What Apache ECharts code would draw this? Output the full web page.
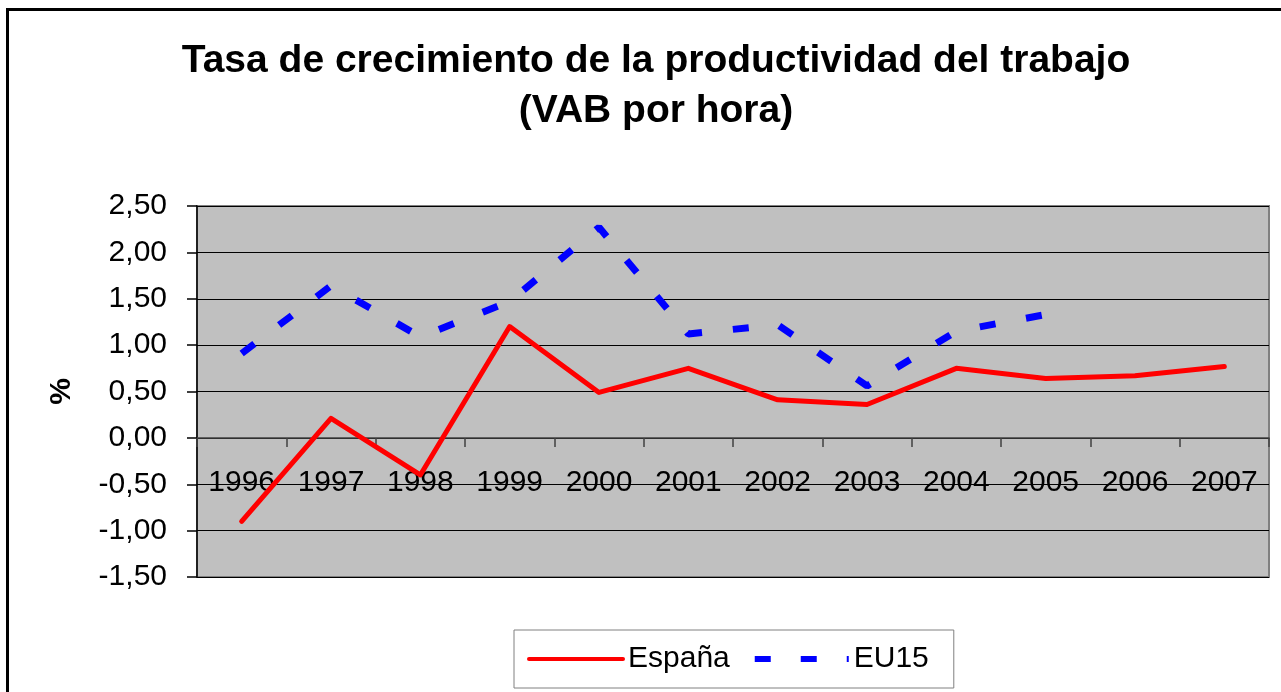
<!DOCTYPE html>
<html>
<head>
<meta charset="utf-8">
<script src="https://cdn.jsdelivr.net/npm/echarts@6/dist/echarts.min.js"></script>
<style>
html,body{margin:0;padding:0;background:#fff;}
#chart{width:1281px;height:692px;}
</style>
</head>
<body>
<div id="chart"></div>
<script>
const years = ['1996','1997','1998','1999','2000','2001','2002','2003','2004','2005','2006','2007'];
const espana = [-0.90, 0.21, -0.40, 1.20, 0.49, 0.75, 0.41, 0.36, 0.75, 0.64, 0.67, 0.77];
const eu15 = [0.91, 1.64, 1.09, 1.47, 2.27, 1.12, 1.22, 0.56, 1.15, 1.33, null, null];
const titleText = 'Tasa de crecimiento de la productividad del trabajo\n(VAB por hora)';
const yName = '%';
const yMin = -1.5, yMax = 2.5, yStep = 0.5;

const FONT = 'Arial, "Liberation Sans", sans-serif';
const gridTop = 206, gridBottomPx = 577;
const gridH = gridBottomPx - gridTop;
const zeroOffset = -(gridH * (0 - yMin) / (yMax - yMin));

const chart = echarts.init(document.getElementById('chart'), null, {renderer: 'canvas'});
chart.setOption({
  animation: false,
  backgroundColor: '#ffffff',
  textStyle: {fontFamily: FONT, color: '#000'},
  graphic: [{
    type: 'rect',
    shape: {x: 7.5, y: 9.5, width: 1290, height: 700},
    style: {fill: 'none', stroke: '#000', lineWidth: 3},
    silent: true
  }],
  title: {
    text: titleText,
    left: 651,
    top: 31,
    textAlign: 'center',
    textStyle: {fontFamily: FONT, fontSize: 39, fontWeight: 'bold', color: '#000', lineHeight: 50}
  },
  legend: {
    left: 514,
    top: 630,
    padding: [14, 25, 14, 13],
    itemGap: 22,
    itemWidth: 94,
    itemHeight: 14,
    borderColor: '#808080',
    borderWidth: 1,
    backgroundColor: '#fff',
    itemStyle: {opacity: 0},
    textStyle: {fontFamily: FONT, fontSize: 30, color: '#000'},
    data: [
      {name: 'España', lineStyle: {width: 4, color: '#FF0000'}},
      {name: 'EU15', lineStyle: {width: 6, color: '#0000FF', type: [16, 30]}}
    ]
  },
  grid: {
    left: 197, top: gridTop, right: 12, bottom: 692 - gridBottomPx,
    show: true,
    backgroundColor: '#C0C0C0',
    borderColor: '#808080',
    borderWidth: 2
  },
  xAxis: {
    type: 'category',
    data: years,
    boundaryGap: true,
    offset: zeroOffset,
    axisLine: {show: true, onZero: false, lineStyle: {color: '#404040', width: 1.5}},
    axisTick: {show: true, inside: false, length: 9, interval: 0, lineStyle: {color: '#404040', width: 1.5}},
    axisLabel: {interval: 0, fontSize: 30, fontFamily: FONT, color: '#000', margin: 30},
    splitLine: {show: false}
  },
  yAxis: {
    type: 'value',
    min: yMin, max: yMax, interval: yStep,
    name: yName,
    nameLocation: 'middle',
    nameGap: 120,
    nameRotate: 90,
    nameTextStyle: {fontFamily: FONT, fontSize: 30, fontWeight: 'bold', color: '#000'},
    axisLine: {show: true, lineStyle: {color: '#000', width: 1.5}},
    axisTick: {show: true, inside: false, length: 10, lineStyle: {color: '#000', width: 1.5}},
    axisLabel: {fontSize: 30, fontFamily: FONT, color: '#000', margin: 30,
      formatter: v => v.toFixed(2).replace('.', ',')},
    splitLine: {show: true, lineStyle: {color: '#000', width: 1.2}}
  },
  series: [
    {
      name: 'España', type: 'line', data: espana,
      symbol: 'none', showSymbol: false,
      lineStyle: {color: '#FF0000', width: 5, cap: 'round', join: 'round'},
      itemStyle: {color: '#FF0000'},
      z: 3
    },
    {
      name: 'EU15', type: 'line', data: eu15,
      symbol: 'none', showSymbol: false, connectNulls: false,
      lineStyle: {color: '#0000FF', width: 7, type: [16, 31], cap: 'butt'},
      itemStyle: {color: '#0000FF'},
      z: 2
    }
  ]
});
</script>
</body>
</html>
